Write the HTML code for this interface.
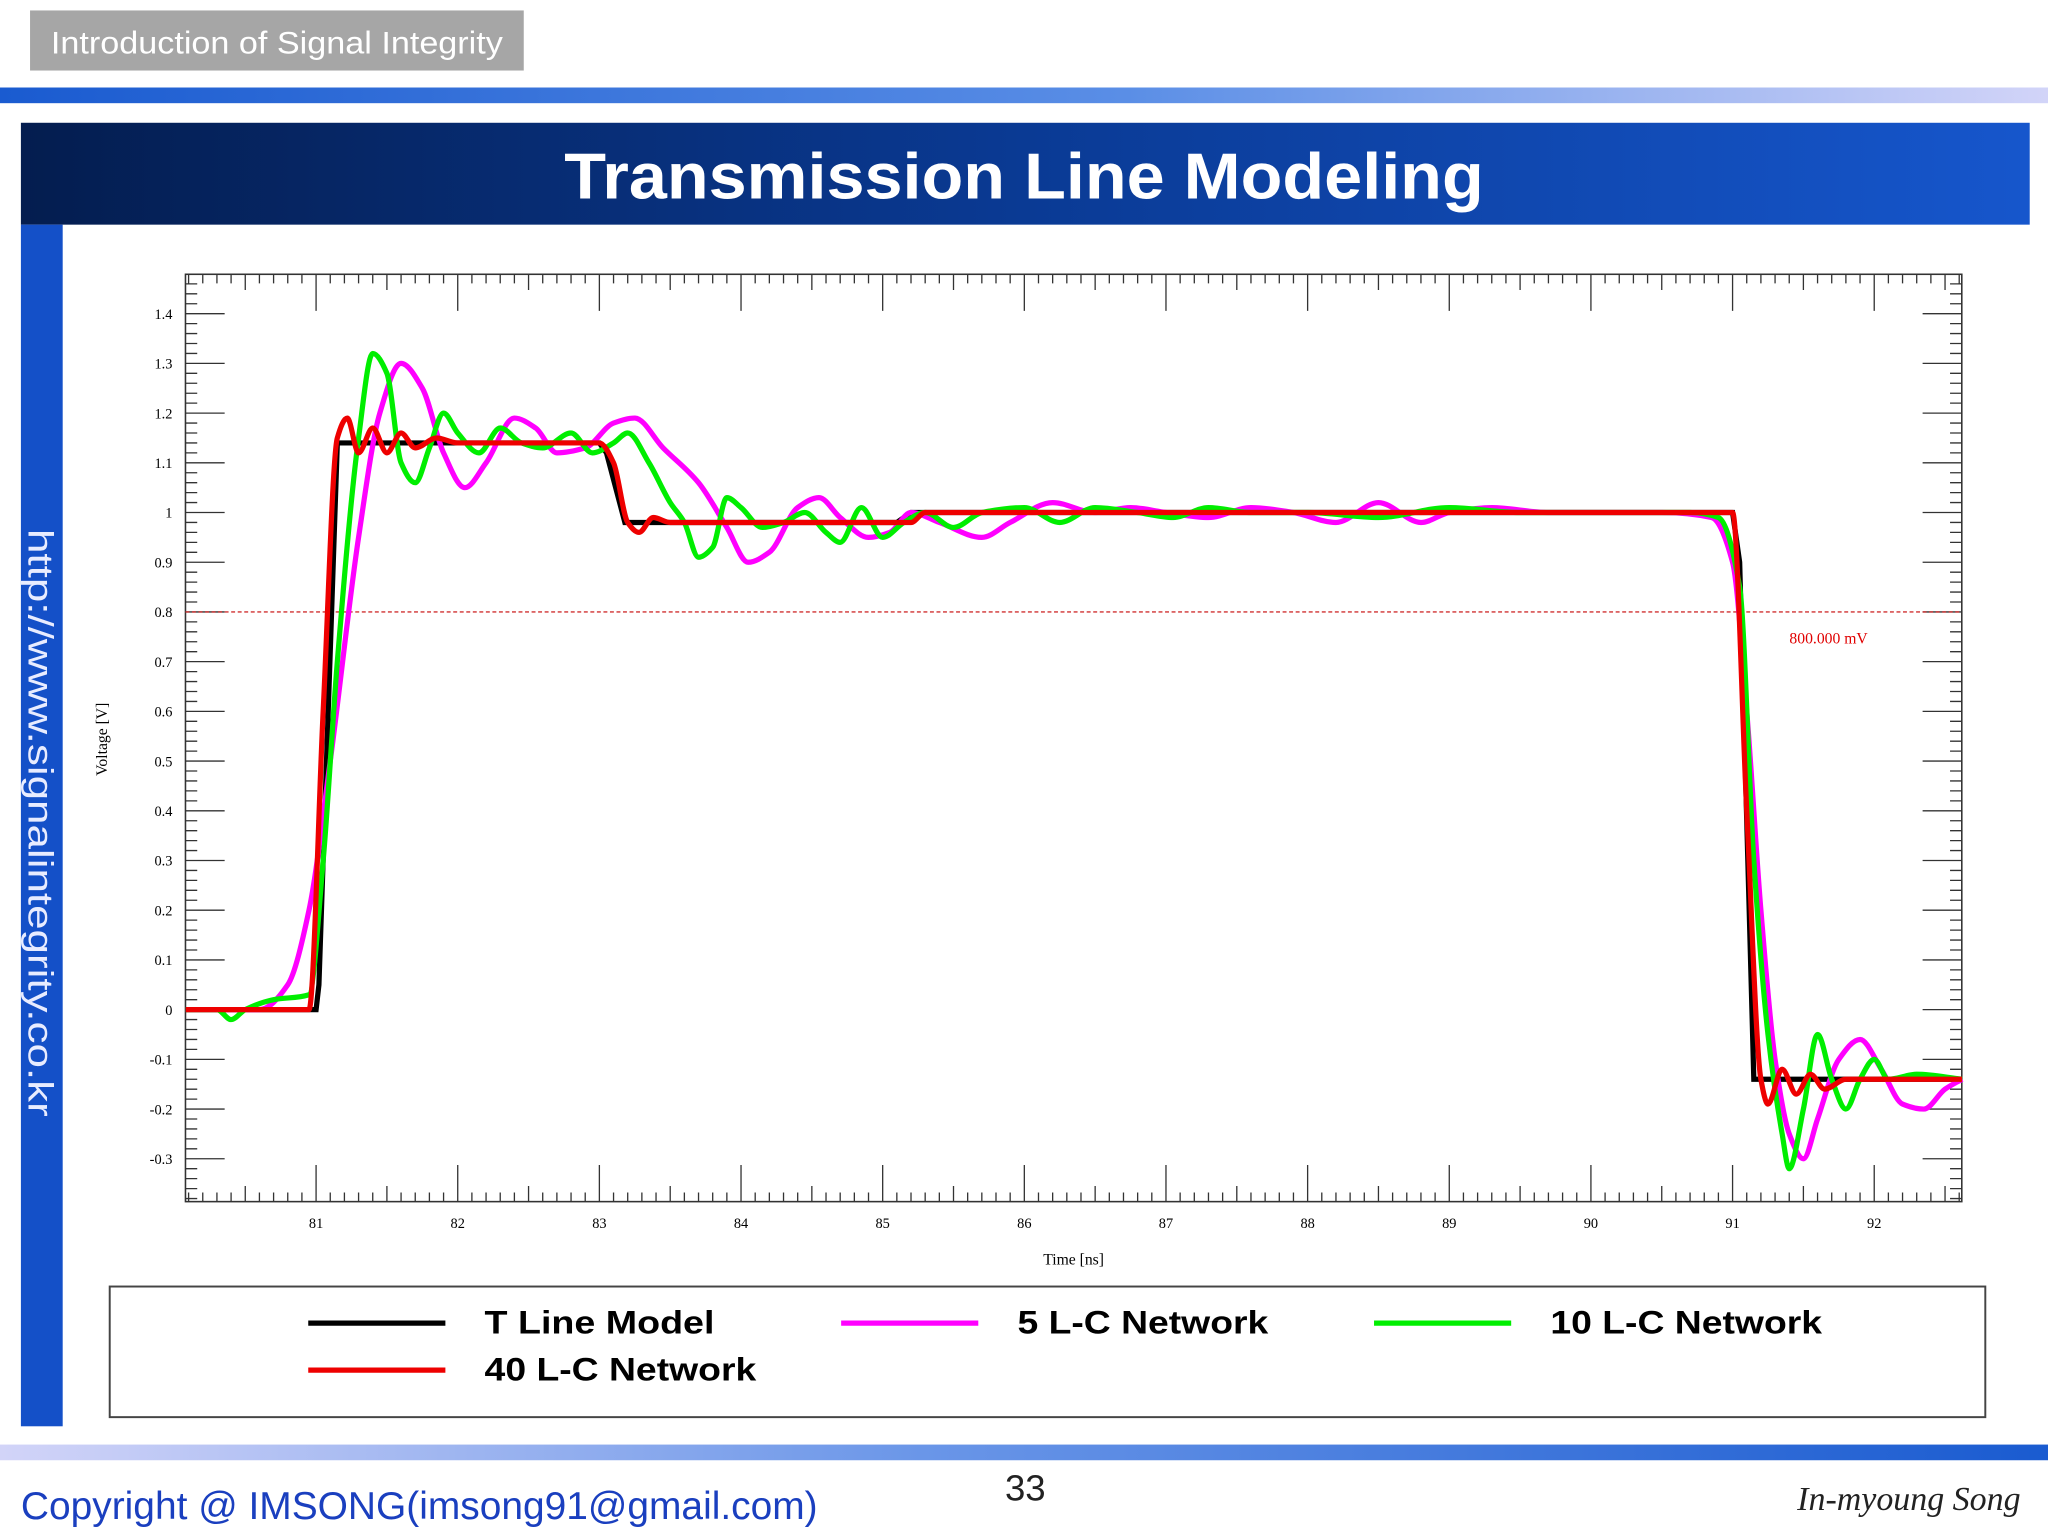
<!DOCTYPE html>
<html><head><meta charset="utf-8"><style>
html,body{margin:0;padding:0;background:#fff;overflow:hidden}
svg{display:block}
</style></head><body>
<svg id="page" width="2048" height="1536" viewBox="0 0 1568 1176" xmlns="http://www.w3.org/2000/svg" font-family="Liberation Sans, sans-serif">
<defs>
<linearGradient id="topbar" x1="0" x2="1"><stop offset="0" stop-color="#1a5bd0"/><stop offset="0.55" stop-color="#5a8ee6"/><stop offset="1" stop-color="#d2d4f8"/></linearGradient>
<linearGradient id="botbar" x1="0" x2="1"><stop offset="0" stop-color="#d2d4f8"/><stop offset="0.45" stop-color="#6a96e8"/><stop offset="1" stop-color="#1a5bd0"/></linearGradient>
<linearGradient id="titlebg" x1="0" x2="1"><stop offset="0" stop-color="#041d4f"/><stop offset="0.5" stop-color="#0a3a94"/><stop offset="1" stop-color="#1656cc"/></linearGradient>
</defs>
<rect width="1568" height="1176" fill="#fff"/>
<rect x="23" y="8" width="378" height="46" fill="#a6a6a6"/>
<text x="39" y="41" font-size="24" fill="#fff" textLength="346" lengthAdjust="spacingAndGlyphs">Introduction of Signal Integrity</text>
<rect x="0" y="67" width="1568" height="12" fill="url(#topbar)"/>
<rect x="16" y="94" width="1538" height="78" fill="url(#titlebg)"/>
<text x="432" y="152" font-size="50" font-weight="bold" fill="#fff" textLength="704" lengthAdjust="spacingAndGlyphs">Transmission Line Modeling</text>
<rect x="16" y="172" width="32" height="920" fill="#1450c8"/>
<text transform="translate(22,405) rotate(90)" font-size="27" fill="#e8ecff" textLength="450" lengthAdjust="spacingAndGlyphs">http://www.signalintegrity.co.kr</text>
<rect x="0" y="1106" width="1568" height="12" fill="url(#botbar)"/>
<text x="16" y="1163" font-size="30" fill="#1a3fbf" textLength="610" lengthAdjust="spacingAndGlyphs">Copyright @ IMSONG(imsong91@gmail.com)</text>
<text x="785" y="1149" font-size="28" fill="#222" text-anchor="middle">33</text>
<text x="1547" y="1156" font-size="26" font-style="italic" font-family="Liberation Serif, serif" fill="#222" text-anchor="end">In-myoung Song</text>
<g id="chart"></g>
<g>
<rect x="84" y="985" width="1436" height="100" fill="#fff" stroke="#444" stroke-width="1.5"/>
<g><line x1="236" y1="1013" x2="341" y2="1013" stroke="#000" stroke-width="4"/><text x="371" y="1021" font-size="25" font-weight="bold" textLength="176" lengthAdjust="spacingAndGlyphs">T Line Model</text></g>
<g><line x1="644" y1="1013" x2="749" y2="1013" stroke="#ff00ff" stroke-width="4"/><text x="779" y="1021" font-size="25" font-weight="bold" textLength="192" lengthAdjust="spacingAndGlyphs">5 L-C Network</text></g>
<g><line x1="1052" y1="1013" x2="1157" y2="1013" stroke="#00ee00" stroke-width="4"/><text x="1187" y="1021" font-size="25" font-weight="bold" textLength="208" lengthAdjust="spacingAndGlyphs">10 L-C Network</text></g>
<g><line x1="236" y1="1049" x2="341" y2="1049" stroke="#ee0000" stroke-width="4"/><text x="371" y="1057" font-size="25" font-weight="bold" textLength="208" lengthAdjust="spacingAndGlyphs">40 L-C Network</text></g>
</g>
</svg>
<script>
const xTicks=[81,82,83,84,85,86,87,88,89,90,91,92];
const yTicks=[-0.3,-0.2,-0.1,0,0.1,0.2,0.3,0.4,0.5,0.6,0.7,0.8,0.9,1,1.1,1.2,1.3,1.4];
const refLevel=0.8;
const tlineT=[80.08,81.0,81.02,81.15,83.0,83.05,83.18,85.1,85.2,91.0,91.05,91.15,92.62];
const tlineV=[0,0,0.05,1.14,1.14,1.12,0.98,0.98,1.0,1.0,0.9,-0.14,-0.14];
const lc40T=[80.08,80.95,81.05,81.15,81.22,81.3,81.4,81.5,81.6,81.7,81.85,82,83.0,83.1,83.2,83.28,83.38,83.5,84,85.2,85.3,91.0,91.1,91.2,91.25,91.35,91.45,91.55,91.65,91.8,92.62];
const lc40V=[0,0,0.6,1.15,1.19,1.12,1.17,1.12,1.16,1.13,1.15,1.14,1.14,1.1,0.98,0.96,0.99,0.98,0.98,0.98,1.0,1.0,0.4,-0.14,-0.19,-0.12,-0.17,-0.13,-0.16,-0.14,-0.14];
const lc5T=[80.08,80.6,80.8,80.95,81.1,81.3,81.45,81.6,81.75,81.9,82.05,82.2,82.4,82.55,82.7,82.9,83.1,83.25,83.45,83.7,83.9,84.05,84.2,84.4,84.55,84.7,84.9,85.05,85.2,85.4,85.7,85.9,86.2,86.5,86.75,87.0,87.3,87.6,87.9,88.2,88.5,88.8,89.0,89.3,89.7,90.5,90.85,91.0,91.1,91.2,91.3,91.4,91.5,91.6,91.75,91.9,92.05,92.2,92.35,92.5,92.62];
const lc5V=[0,0,0.05,0.2,0.5,0.95,1.2,1.3,1.25,1.12,1.05,1.1,1.19,1.17,1.12,1.13,1.18,1.19,1.13,1.06,0.97,0.9,0.92,1.01,1.03,0.99,0.95,0.96,1.0,0.98,0.95,0.98,1.02,1.0,1.01,1.0,0.99,1.01,1.0,0.98,1.02,0.98,1.0,1.01,1.0,1.0,0.99,0.9,0.6,0.2,-0.1,-0.25,-0.3,-0.22,-0.1,-0.06,-0.12,-0.19,-0.2,-0.16,-0.14];
const lc10T=[80.08,80.3,80.4,80.5,80.7,80.95,81.05,81.15,81.3,81.4,81.5,81.6,81.7,81.8,81.9,82.0,82.15,82.3,82.45,82.6,82.8,82.95,83.1,83.2,83.35,83.5,83.6,83.7,83.8,83.9,84.0,84.15,84.3,84.45,84.6,84.7,84.85,85.0,85.15,85.3,85.5,85.7,86.0,86.25,86.5,86.8,87.05,87.3,87.6,88.0,88.5,89.0,89.5,90.0,90.7,90.9,91.05,91.15,91.25,91.35,91.4,91.5,91.6,91.7,91.8,91.9,92.0,92.1,92.3,92.62];
const lc10V=[0,0,-0.02,0,0.02,0.03,0.3,0.7,1.15,1.32,1.28,1.1,1.06,1.13,1.2,1.16,1.12,1.17,1.14,1.13,1.16,1.12,1.14,1.16,1.1,1.02,0.98,0.91,0.93,1.03,1.01,0.97,0.98,1.0,0.96,0.94,1.01,0.95,0.98,1.0,0.97,1.0,1.01,0.98,1.01,1.0,0.99,1.01,1.0,1.0,0.99,1.01,1.0,1.0,1.0,0.99,0.85,0.3,-0.05,-0.25,-0.32,-0.2,-0.05,-0.14,-0.2,-0.14,-0.1,-0.14,-0.13,-0.14];

const NS='http://www.w3.org/2000/svg';
const L=142,R=1502,T=210,B=920;
const X0=81,XPX=108.45,Y0=0,YPX=380.6;
const xs=t=>242+(t-X0)*XPX;
const ys=v=>773-(v-Y0)*YPX;
const g=document.getElementById('chart');
function mk(tag,attrs){const e=document.createElementNS(NS,tag);for(const k in attrs)e.setAttribute(k,attrs[k]);g.appendChild(e);return e;}
const frame=mk('rect',{x:L,y:T,width:R-L,height:B-T,fill:'#fff',stroke:'#333','stroke-width':1.2});


let tk='';
const tmin=(L-242)/XPX+X0,tmax=(R-242)/XPX+X0;
for(let i=Math.ceil(tmin*10);i<=Math.floor(tmax*10);i++){const x=xs(i/10);const maj=i%10===0;const len=maj?28:(i%5===0?12:7);tk+=`M${x} ${T}v${len}M${x} ${B}v${-len}`;}
const vlo=(773-B)/YPX,vhi=(773-T)/YPX;
for(let i=Math.ceil(vlo*50);i<=Math.floor(vhi*50);i++){const y=ys(i/50);const maj=i%5===0;const len=maj?30:9;tk+=`M${L} ${y}h${len}M${R} ${y}h${-len}`;}
const ticks=mk('path',{d:tk,stroke:'#333','stroke-width':1,fill:'none'});


xTicks.forEach(t=>{const e=mk('text',{x:xs(t),y:940,'font-size':11,'text-anchor':'middle','font-family':'Liberation Serif, serif'});e.textContent=t;

});
yTicks.forEach(v=>{const e=mk('text',{x:132,y:ys(v)+4,'font-size':11,'text-anchor':'end','font-family':'Liberation Serif, serif'});e.textContent=String(Math.round(v*10)/10);

});
const xt=mk('text',{x:822,y:968,'font-size':12,'text-anchor':'middle','font-family':'Liberation Serif, serif'});xt.textContent='Time [ns]';


const yt=mk('text',{transform:'translate(82,566) rotate(-90)','font-size':12,'text-anchor':'middle','font-family':'Liberation Serif, serif'});yt.textContent='Voltage [V]';


const ref=mk('line',{x1:L,x2:R,y1:ys(refLevel),y2:ys(refLevel),stroke:'#d03030','stroke-width':1,'stroke-dasharray':'3,2'});


const rl=mk('text',{x:1400,y:ys(refLevel)+24,'font-size':12,fill:'#e00000','text-anchor':'middle','font-family':'Liberation Serif, serif'});rl.textContent=(refLevel*1000).toFixed(3)+' mV';


// monotone cubic (Fritsch-Carlson) in x
function smooth(T_,V_){const p=T_.map((t,i)=>[xs(t),ys(V_[i])]);const n=p.length;const d=[],m=new Array(n);
for(let i=0;i<n-1;i++)d.push((p[i+1][1]-p[i][1])/(p[i+1][0]-p[i][0]));
m[0]=d[0];m[n-1]=d[n-2];
for(let i=1;i<n-1;i++){if(d[i-1]*d[i]<=0)m[i]=0;else{const h0=p[i][0]-p[i-1][0],h1=p[i+1][0]-p[i][0];const w1=2*h1+h0,w2=h1+2*h0;m[i]=(w1+w2)/(w1/d[i-1]+w2/d[i]);}}
let s=`M${p[0][0]} ${p[0][1]}`;
for(let i=0;i<n-1;i++){const h=(p[i+1][0]-p[i][0])/3;s+=`C${p[i][0]+h} ${p[i][1]+m[i]*h},${p[i+1][0]-h} ${p[i+1][1]-m[i+1]*h},${p[i+1][0]} ${p[i+1][1]}`;}
return s;}
function linear(T_,V_){return T_.map((t,i)=>(i?'L':'M')+xs(t)+' '+ys(V_[i])).join('');}
const s1=mk('path',{d:linear(tlineT,tlineV),stroke:'#000','stroke-width':4,fill:'none'});


const s2=mk('path',{d:smooth(lc5T,lc5V),stroke:'#ff00ff','stroke-width':4,fill:'none'});


const s3=mk('path',{d:smooth(lc10T,lc10V),stroke:'#00ee00','stroke-width':4,fill:'none'});


const s4=mk('path',{d:smooth(lc40T,lc40V),stroke:'#ee0000','stroke-width':4,fill:'none'});


</script>
</body></html>
